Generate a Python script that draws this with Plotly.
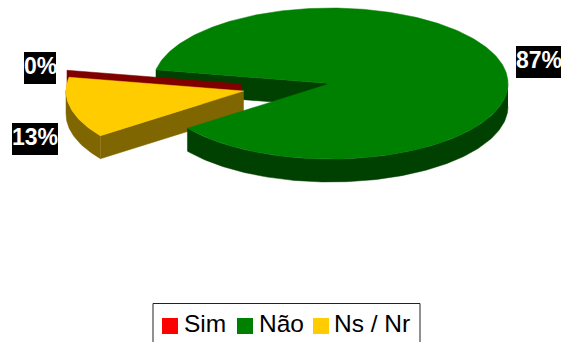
import numpy as np
import plotly.graph_objects as go

# Survey shares
categories = ["Sim", "Não", "Ns / Nr"]
values = [0, 87, 13]
labels = ["0%", "87%", "13%"]
top_colors = ["#ff0000", "#008000", "#ffcc00"]
side_colors = ["#800000", "#004000", "#806600"]

# Projection of the tilted pie, in page pixels
WIDTH, HEIGHT = 561, 342
CENTER = (330.5, 83.5)
RX, RY = 177.5, 75.5
DEPTH = 23
START_ANGLE = 169.5
EXPLODE = {"Sim": (-89, 0.5), "Não": (0, 0), "Ns / Nr": (-87, 7.5)}

# Slice angles run clockwise from the start angle
total = sum(values)
angles = {}
cursor = START_ANGLE
for name, value in zip(categories, values):
    sweep = 360.0 * value / total
    angles[name] = (cursor, cursor - sweep)
    cursor -= sweep


def slice_geometry(name):
    a0, a1 = angles[name]
    ox, oy = EXPLODE[name]
    cx, cy = CENTER[0] + ox, CENTER[1] + oy
    n = max(2, int(abs(a0 - a1)) + 2)
    t = np.radians(np.linspace(a0, a1, n))
    return cx, cy, cx + RX * np.cos(t), cy - RY * np.sin(t)


def polygon(xs, ys, color):
    return go.Scatter(
        x=list(xs), y=list(ys), mode="lines", fill="toself",
        fillcolor=color, line=dict(color=color, width=0.5),
        hoverinfo="skip", showlegend=False,
    )


def leading_wall(name, color):
    # Flat cut face along the first edge of a slice
    cx, cy, ax, ay = slice_geometry(name)
    return polygon(
        [ax[0], cx, cx, ax[0], ax[0]],
        [ay[0], cy, cy + DEPTH, ay[0] + DEPTH, ay[0]],
        color,
    )


def rim(name, color):
    # Only the front half of the rim (below the ellipse axis) can be seen
    _, cy, ax, ay = slice_geometry(name)
    front = ay >= cy - 1
    fx, fy = ax[front], ay[front]
    return polygon(
        np.concatenate([fx, fx[::-1]]),
        np.concatenate([fy, fy[::-1] + DEPTH]),
        color,
    )


def top(name, color):
    cx, cy, ax, ay = slice_geometry(name)
    return polygon(
        np.concatenate([[cx], ax, [cx]]),
        np.concatenate([[cy], ay, [cy]]),
        color,
    )


fig = go.Figure()
sim, nao, ns = categories
side = dict(zip(categories, side_colors))
face = dict(zip(categories, top_colors))

# Painted back to front
fig.add_trace(leading_wall(nao, side[nao]))
fig.add_trace(leading_wall(sim, side[sim]))
fig.add_trace(rim(ns, side[ns]))
fig.add_trace(leading_wall(ns, side[ns]))
fig.add_trace(top(ns, face[ns]))
fig.add_trace(rim(nao, side[nao]))
fig.add_trace(top(nao, face[nao]))

# Value labels: white on black boxes
label_boxes = {"0%": (24, 52, 32), "13%": (12, 123, 46), "87%": (516, 46, 45)}
annotations = []
shapes = []
for text in labels:
    bx, by, bw = label_boxes[text]
    shapes.append(dict(
        type="rect", x0=bx, x1=bx + bw, y0=by, y1=by + 32, xref="x", yref="y",
        line=dict(width=0), fillcolor="#000000", layer="above",
    ))
    annotations.append(dict(
        x=bx + bw / 2, y=by + 13.5, xref="x", yref="y",
        xanchor="center", yanchor="middle",
        text=f"<b>{text}</b>", showarrow=False, borderpad=0,
        font=dict(family="Liberation Sans", size=23, color="#ffffff"),
    ))

# Legend frame runs past the bottom of the page
shapes.append(dict(
    type="rect", x0=153, x1=420, y0=303.5, y1=360, xref="x", yref="y",
    line=dict(color="#222222", width=1), fillcolor="#ffffff", layer="below",
))
legend_slots = {"Sim": (162, 183), "Não": (237, 258), "Ns / Nr": (313, 333)}
for name in categories:
    sx, tx = legend_slots[name]
    shapes.append(dict(
        type="rect", x0=sx, x1=sx + 16, y0=318, y1=334, xref="x", yref="y",
        line=dict(width=0), fillcolor=face[name], layer="above",
    ))
    annotations.append(dict(
        x=tx, y=323, xref="x", yref="y", xanchor="left", yanchor="middle",
        text=name, showarrow=False, borderpad=0,
        font=dict(family="Liberation Sans", size=24.5, color="#000000"),
    ))

fig.update_layout(
    width=WIDTH, height=HEIGHT,
    margin=dict(l=0, r=0, t=0, b=0),
    paper_bgcolor="#ffffff", plot_bgcolor="#ffffff",
    showlegend=False,
    xaxis=dict(range=[0, WIDTH], visible=False, fixedrange=True),
    yaxis=dict(range=[HEIGHT, 0], visible=False, fixedrange=True),
    shapes=shapes, annotations=annotations,
)

fig.write_html("out.html", config=dict(displayModeBar=False))
